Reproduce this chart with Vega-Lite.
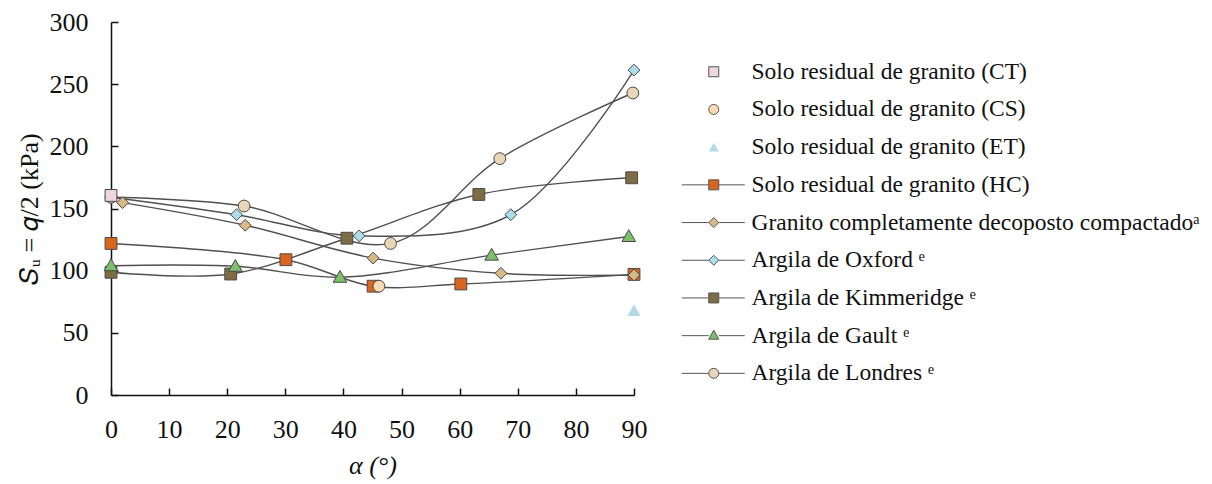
{
  "$schema": "https://vega.github.io/schema/vega-lite/v6.json",
  "width": 523,
  "height": 373,
  "autosize": {"type": "none"},
  "padding": {"left": 111, "top": 22, "right": 578, "bottom": 89},
  "background": "white",
  "config": {
    "view": {"stroke": null},
    "font": "Liberation Serif",
    "axis": {
      "grid": false,
      "domainColor": "#111111",
      "domainWidth": 1.5,
      "tickColor": "#111111",
      "tickWidth": 1.5,
      "tickSize": -7,
      "labelFontSize": 26,
      "labelColor": "#111111",
      "labelFlush": false,
      "titleFontSize": 26,
      "titleFontWeight": "normal",
      "titleColor": "#111111"
    }
  },
  "datasets": {
    "points": [
      {"series": "Solo residual de granito (HC)", "x": 0, "y": 121.9},
      {"series": "Solo residual de granito (HC)", "x": 30.1, "y": 108.8},
      {"series": "Solo residual de granito (HC)", "x": 45.1, "y": 87.5},
      {"series": "Solo residual de granito (HC)", "x": 60.2, "y": 89.3},
      {"series": "Solo residual de granito (HC)", "x": 90, "y": 97},
      {"series": "Granito completamente decoposto compactado", "x": 2, "y": 154.7},
      {"series": "Granito completamente decoposto compactado", "x": 23.1, "y": 136.5},
      {"series": "Granito completamente decoposto compactado", "x": 45.1, "y": 110.1},
      {"series": "Granito completamente decoposto compactado", "x": 67.1, "y": 97.9},
      {"series": "Granito completamente decoposto compactado", "x": 90, "y": 96.5},
      {"series": "Argila de Oxford", "x": 0, "y": 159},
      {"series": "Argila de Oxford", "x": 21.6, "y": 145},
      {"series": "Argila de Oxford", "x": 42.7, "y": 128},
      {"series": "Argila de Oxford", "x": 68.8, "y": 145},
      {"series": "Argila de Oxford", "x": 90, "y": 261.3},
      {"series": "Argila de Kimmeridge", "x": 0, "y": 98.7},
      {"series": "Argila de Kimmeridge", "x": 20.6, "y": 97.3},
      {"series": "Argila de Kimmeridge", "x": 40.6, "y": 126.1},
      {"series": "Argila de Kimmeridge", "x": 63.3, "y": 161.3},
      {"series": "Argila de Kimmeridge", "x": 89.6, "y": 174.7},
      {"series": "Argila de Gault", "x": 0, "y": 104},
      {"series": "Argila de Gault", "x": 21.4, "y": 103.5},
      {"series": "Argila de Gault", "x": 39.4, "y": 94.7},
      {"series": "Argila de Gault", "x": 65.5, "y": 112.5},
      {"series": "Argila de Gault", "x": 89.1, "y": 127.5},
      {"series": "Argila de Londres", "x": 0, "y": 159},
      {"series": "Argila de Londres", "x": 22.9, "y": 152},
      {"series": "Argila de Londres", "x": 48.1, "y": 121.9},
      {"series": "Argila de Londres", "x": 66.9, "y": 190.1},
      {"series": "Argila de Londres", "x": 89.8, "y": 242.9},
      {"series": "Solo residual de granito (CS)", "x": 46.1, "y": 87.5},
      {"series": "Solo residual de granito (ET)", "x": 90, "y": 67.5},
      {"series": "Solo residual de granito (CT)", "x": 0, "y": 160.5}
    ]
  },
  "data": {"name": "points"},
  "encoding": {
    "x": {
      "field": "x", "type": "quantitative",
      "scale": {"domain": [0, 90], "nice": false, "zero": false},
      "axis": {"values": [0, 10, 20, 30, 40, 50, 60, 70, 80, 90], "title": "α (°)", "labelFont": "Liberation Serif", "titleFont": "Liberation Serif", "titleFontStyle": "italic", "labelFlush": false, "labelPadding": 28, "titlePadding": 10}
    },
    "y": {
      "field": "y", "type": "quantitative",
      "scale": {"domain": [0, 300], "nice": false},
      "axis": {"values": [0, 50, 100, 150, 200, 250, 300], "title": "𝑆ᵤ = 𝑞/2 (kPa)", "labelFont": "Liberation Serif", "titleFont": "Liberation Serif", "labelPadding": 30, "titlePadding": 7}
    }
  },
  "resolve": {"scale": {"color": "independent", "shape": "independent", "stroke": "independent"}},
  "layer": [
    {
      "mark": {"type": "line", "interpolate": "catmull-rom", "color": "#505050", "strokeWidth": 1.4},
      "encoding": {"detail": {"field": "series"}}
    },
    {
      "mark": {"type": "point", "filled": true, "opacity": 1, "size": 140, "strokeWidth": 1},
      "encoding": {
        "stroke": {
          "field": "series", "type": "nominal", "legend": null,
          "scale": {
            "domain": ["Solo residual de granito (CT)", "Solo residual de granito (CS)", "Solo residual de granito (ET)", "Solo residual de granito (HC)", "Granito completamente decoposto compactado", "Argila de Oxford", "Argila de Kimmeridge", "Argila de Gault", "Argila de Londres"],
            "range": ["#4a4a4a", "#4a4a4a", "transparent", "#4a4a4a", "#4a4a4a", "#4a4a4a", "#4a4a4a", "#4a4a4a", "#4a4a4a"]
          }
        },
        "color": {
          "field": "series", "type": "nominal", "legend": null,
          "scale": {
            "domain": ["Solo residual de granito (CT)", "Solo residual de granito (CS)", "Solo residual de granito (ET)", "Solo residual de granito (HC)", "Granito completamente decoposto compactado", "Argila de Oxford", "Argila de Kimmeridge", "Argila de Gault", "Argila de Londres"],
            "range": ["#eed6e0", "#fcdab2", "#b5dbe6", "#d9661f", "#d8b886", "#acdcea", "#7e6c44", "#7cbf6c", "#e9d6b6"]
          }
        },
        "shape": {
          "field": "series", "type": "nominal", "legend": null,
          "scale": {
            "domain": ["Solo residual de granito (CT)", "Solo residual de granito (CS)", "Solo residual de granito (ET)", "Solo residual de granito (HC)", "Granito completamente decoposto compactado", "Argila de Oxford", "Argila de Kimmeridge", "Argila de Gault", "Argila de Londres"],
            "range": ["square", "circle", "M0,-1.15L1.15,0.85H-1.15Z", "square", "diamond", "diamond", "square", "M0,-1.15L1.15,0.85H-1.15Z", "circle"]
          }
        }
      }
    },
    {
      "mark": {"type": "point", "filled": true, "opacity": 0, "size": 100, "strokeWidth": 1},
      "encoding": {
        "stroke": {
          "field": "series", "type": "nominal",
          "scale": {
            "domain": ["Solo residual de granito (CT)", "Solo residual de granito (CS)", "Solo residual de granito (ET)", "Solo residual de granito (HC)", "Granito completamente decoposto compactado", "Argila de Oxford", "Argila de Kimmeridge", "Argila de Gault", "Argila de Londres"],
            "range": ["#555555", "#555555", "transparent", "#555555", "#555555", "#555555", "#555555", "#555555", "#555555"]
          },
          "legend": {
            "orient": "none", "legendX": 591, "legendY": 38, "padding": 0,
            "title": null, "labelFont": "Liberation Serif", "labelFontSize": 23.5, "labelColor": "#111111",
            "labelLimit": 700, "labelOffset": 26, "rowPadding": 12.7, "symbolSize": 100, "symbolOpacity": 1, "symbolStrokeWidth": 1,
            "labelExpr": "datum.label == 'Granito completamente decoposto compactado' ? datum.label + 'ᵃ' : indexof(datum.label, 'Argila') == 0 ? datum.label + ' ᵉ' : datum.label"
          }
        },
        "color": {
          "field": "series", "type": "nominal",
          "scale": {
            "domain": ["Solo residual de granito (CT)", "Solo residual de granito (CS)", "Solo residual de granito (ET)", "Solo residual de granito (HC)", "Granito completamente decoposto compactado", "Argila de Oxford", "Argila de Kimmeridge", "Argila de Gault", "Argila de Londres"],
            "range": ["#eed6e0", "#fcdab2", "#b5dbe6", "#d9661f", "#d8b886", "#acdcea", "#7e6c44", "#7cbf6c", "#e9d6b6"]
          },
          "legend": {
            "orient": "none", "legendX": 591, "legendY": 38, "padding": 0,
            "title": null, "labelFont": "Liberation Serif", "labelFontSize": 23.5, "labelColor": "#111111",
            "labelLimit": 700, "labelOffset": 26, "rowPadding": 12.7, "symbolSize": 100, "symbolOpacity": 1, "symbolStrokeWidth": 1,
            "labelExpr": "datum.label == 'Granito completamente decoposto compactado' ? datum.label + 'ᵃ' : indexof(datum.label, 'Argila') == 0 ? datum.label + ' ᵉ' : datum.label"
          }
        },
        "shape": {
          "field": "series", "type": "nominal",
          "scale": {
            "domain": ["Solo residual de granito (CT)", "Solo residual de granito (CS)", "Solo residual de granito (ET)", "Solo residual de granito (HC)", "Granito completamente decoposto compactado", "Argila de Oxford", "Argila de Kimmeridge", "Argila de Gault", "Argila de Londres"],
            "range": ["square", "circle", "triangle-up", "M-6.4,0H-1M1,0H6.2M-1,-1H1V1H-1Z", "M-6.4,0H-1M1,0H6.2M0,-1L1,0L0,1L-1,0Z", "M-6.4,0H-1M1,0H6.2M0,-1L1,0L0,1L-1,0Z", "M-6.4,0H-1M1,0H6.2M-1,-1H1V1H-1Z", "M-6.4,0H-1M1,0H6.2M0,-1.1L1,0.7H-1Z", "M-6.4,0H-1M1,0H6.2M-1,0A1,1 0 1,1 1,0A1,1 0 1,1 -1,0Z"]
          },
          "legend": {
            "orient": "none", "legendX": 591, "legendY": 38, "padding": 0,
            "title": null, "labelFont": "Liberation Serif", "labelFontSize": 23.5, "labelColor": "#111111",
            "labelLimit": 700, "labelOffset": 26, "rowPadding": 12.7, "symbolSize": 100, "symbolOpacity": 1, "symbolStrokeWidth": 1,
            "labelExpr": "datum.label == 'Granito completamente decoposto compactado' ? datum.label + 'ᵃ' : indexof(datum.label, 'Argila') == 0 ? datum.label + ' ᵉ' : datum.label"
          }
        }
      }
    }
  ]
}
